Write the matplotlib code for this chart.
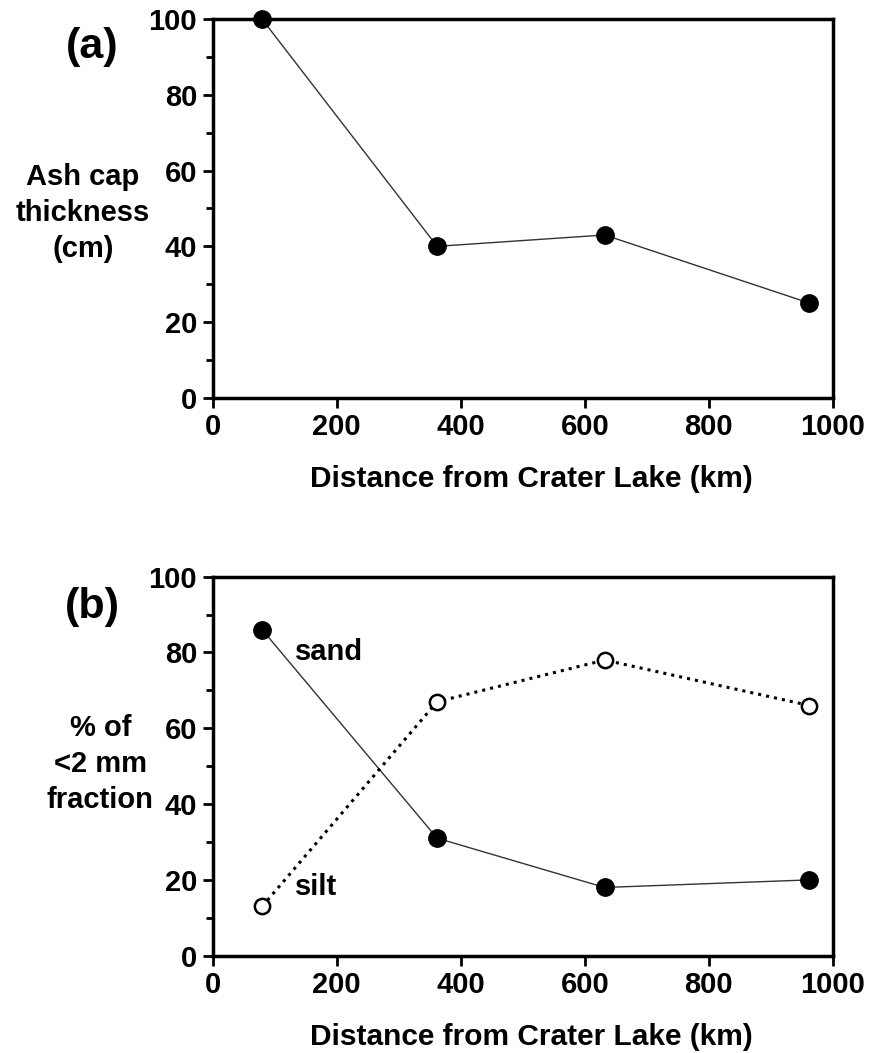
import matplotlib
matplotlib.use("Agg")
import matplotlib.pyplot as plt
from matplotlib.ticker import MultipleLocator

plt.rcParams['font.family'] = ['Liberation Sans', 'DejaVu Sans']
plt.rcParams['font.weight'] = 'bold'

# data
distance = [80, 362, 632, 962]
ash_cap = [100, 40, 43, 25]
sand = [86, 31, 18, 20]
silt = [13, 67, 78, 66]

xticks = [0, 200, 400, 600, 800, 1000]
yticks = [0, 20, 40, 60, 80, 100]

fig = plt.figure(figsize=(8.72, 10.53), dpi=100)
ax1 = fig.add_axes([0.2437, 0.6223, 0.7116, 0.3594])
ax2 = fig.add_axes([0.2437, 0.0924, 0.7116, 0.3600])


def style(ax):
    ax.set_xlim(0, 1000)
    ax.set_ylim(0, 100)
    ax.set_xticks(xticks)
    ax.set_yticks(yticks)
    ax.yaxis.set_minor_locator(MultipleLocator(10))
    for s in ax.spines.values():
        s.set_linewidth(2.5)
    ax.tick_params(which='major', direction='out', length=7, width=2,
                   labelsize=21, pad=4)
    ax.tick_params(which='minor', direction='out', length=5, width=2)
    for lab in ax.get_xticklabels() + ax.get_yticklabels():
        lab.set_fontweight('bold')
    ax.set_xlabel('Distance from Crater Lake (km)', fontsize=21.5,
                  fontweight='bold', labelpad=17)
    ax.xaxis.label.set_x(0.514)


# (a)
ax1.plot(distance, ash_cap, '-', color='#333333', lw=1.0, marker='o',
         ms=12.5, mfc='black', mec='black', clip_on=False, zorder=3)
style(ax1)
fig.text(0.095, 0.798, 'Ash cap\nthickness\n(cm)', ha='center', va='center',
         fontsize=21, fontweight='bold', linespacing=1.37)
fig.text(0.106, 0.955, '(a)', ha='center', va='center', fontsize=31,
         fontweight='bold')

# (b)
ax2.plot(distance, sand, '-', color='#333333', lw=1.0, marker='o',
         ms=12.5, mfc='black', mec='black', clip_on=False, zorder=3)
ax2.plot(distance, silt, ':', color='black', lw=2.2, marker='o',
         ms=11, mfc='white', mec='black', mew=1.8, clip_on=False, zorder=3)
style(ax2)
ax2.text(133, 80, 'sand', fontsize=21, fontweight='bold', va='center')
ax2.text(133, 18, 'silt', fontsize=21, fontweight='bold', va='center')
fig.text(0.115, 0.2745, '% of\n<2 mm\nfraction', ha='center', va='center',
         fontsize=21, fontweight='bold', linespacing=1.37)
fig.text(0.106, 0.424, '(b)', ha='center', va='center', fontsize=31,
         fontweight='bold')

fig.savefig('out.png', dpi=100)
